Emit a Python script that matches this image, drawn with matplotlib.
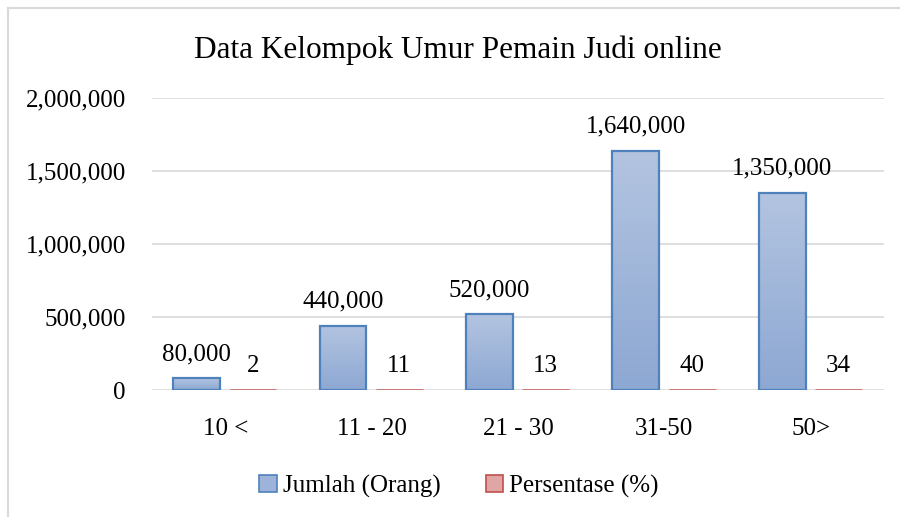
import numpy as np
import matplotlib
matplotlib.use("Agg")
import matplotlib.pyplot as plt
from matplotlib.patches import Patch
from matplotlib.lines import Line2D
from matplotlib.colors import LinearSegmentedColormap

plt.rcParams["font.family"] = ["Liberation Serif", "DejaVu Serif"]

# data
categories = ["10 <", "11 - 20", "21 - 30", "31-50", "50>"]
jumlah = [80000, 440000, 520000, 1640000, 1350000]
persen = [2, 11, 13, 40, 34]
jumlah_labels = ["80,000", "440,000", "520,000", "1,640,000", "1,350,000"]
yticks = [0, 500000, 1000000, 1500000, 2000000]
ytick_labels = ["0", "500,000", "1,000,000", "1,500,000", "2,000,000"]

BLUE_TOP, BLUE_BOT, BLUE_EDGE = "#B3C4E0", "#8DA8D3", "#4F81BD"
RED_EDGE = "#C9706D"
GRID = "#D9D9D9"
TXT = "#000000"

fig = plt.figure(figsize=(9, 5.17), dpi=100)
ax = fig.add_axes([0.169, 0.2456, 0.813, 0.5648])

x = np.arange(len(categories))
w = 0.32
xb = x - 0.195
xr = x + 0.19

# blue bars with a vertical gradient
bars = ax.bar(xb, jumlah, w, facecolor="none", edgecolor=BLUE_EDGE, lw=1.6, zorder=3)
grad = np.linspace(0, 1, 256).reshape(-1, 1)
cmap = LinearSegmentedColormap.from_list("g", [BLUE_BOT, BLUE_TOP])
for b in bars:
    x0, y0 = b.get_x(), b.get_y()
    im = ax.imshow(grad, extent=(x0, x0 + b.get_width(), y0, y0 + b.get_height()),
                   origin="lower", aspect="auto", cmap=cmap, zorder=2)
    im.set_clip_path(b)

# percentage bars (almost flat on this scale)
ax.bar(xr, persen, w, facecolor="#E6B9B8", edgecolor=RED_EDGE, lw=2.0, zorder=3)

for xi, v, lab in zip(xb, jumlah, jumlah_labels):
    ax.annotate(lab, (xi, v), xytext=(0, 13), textcoords="offset points",
                ha="center", va="baseline", fontsize=18, color=TXT)
for xi, v in zip(xr, persen):
    ax.annotate(str(v), (xi, v), xytext=(0, 13), textcoords="offset points",
                ha="center", va="baseline", fontsize=18, color=TXT)

ax.set_xlim(-0.5, len(categories) - 0.5)
ax.set_ylim(0, 2000000)
ax.set_yticks(yticks)
ax.set_yticklabels(ytick_labels, fontsize=18, color=TXT)
ax.set_xticks(x)
ax.set_xticklabels(categories, fontsize=18, color=TXT)
ax.tick_params(axis="y", length=0, pad=19)
ax.tick_params(axis="x", length=0, pad=20)
ax.yaxis.grid(True, color=GRID, lw=1.2, zorder=0)
ax.set_axisbelow(True)
for s in ax.spines.values():
    s.set_visible(False)

fig.text(0.509, 0.903, "Data Kelompok Umur Pemain Judi online", ha="center", va="center",
         fontsize=22.5, color=TXT)

handles = [Patch(facecolor="#9DB3DA", edgecolor=BLUE_EDGE, lw=1.2),
           Patch(facecolor="#E0A6A5", edgecolor="#C0504D", lw=1.2)]
fig.legend(handles, ["Jumlah (Orang)", "Persentase (%)"], loc="center",
           bbox_to_anchor=(0.51, 0.06), ncol=2, frameon=False, fontsize=18,
           handlelength=0.7, handleheight=0.7, handletextpad=0.25, columnspacing=1.8)

# outer chart frame (cropped at right and bottom)
fig.add_artist(Line2D([8 / 900, 8 / 900], [0, 1 - 8 / 517], color=GRID, lw=1.5))
fig.add_artist(Line2D([8 / 900, 1], [1 - 8 / 517, 1 - 8 / 517], color=GRID, lw=1.5))

fig.savefig("out.png", dpi=100)
